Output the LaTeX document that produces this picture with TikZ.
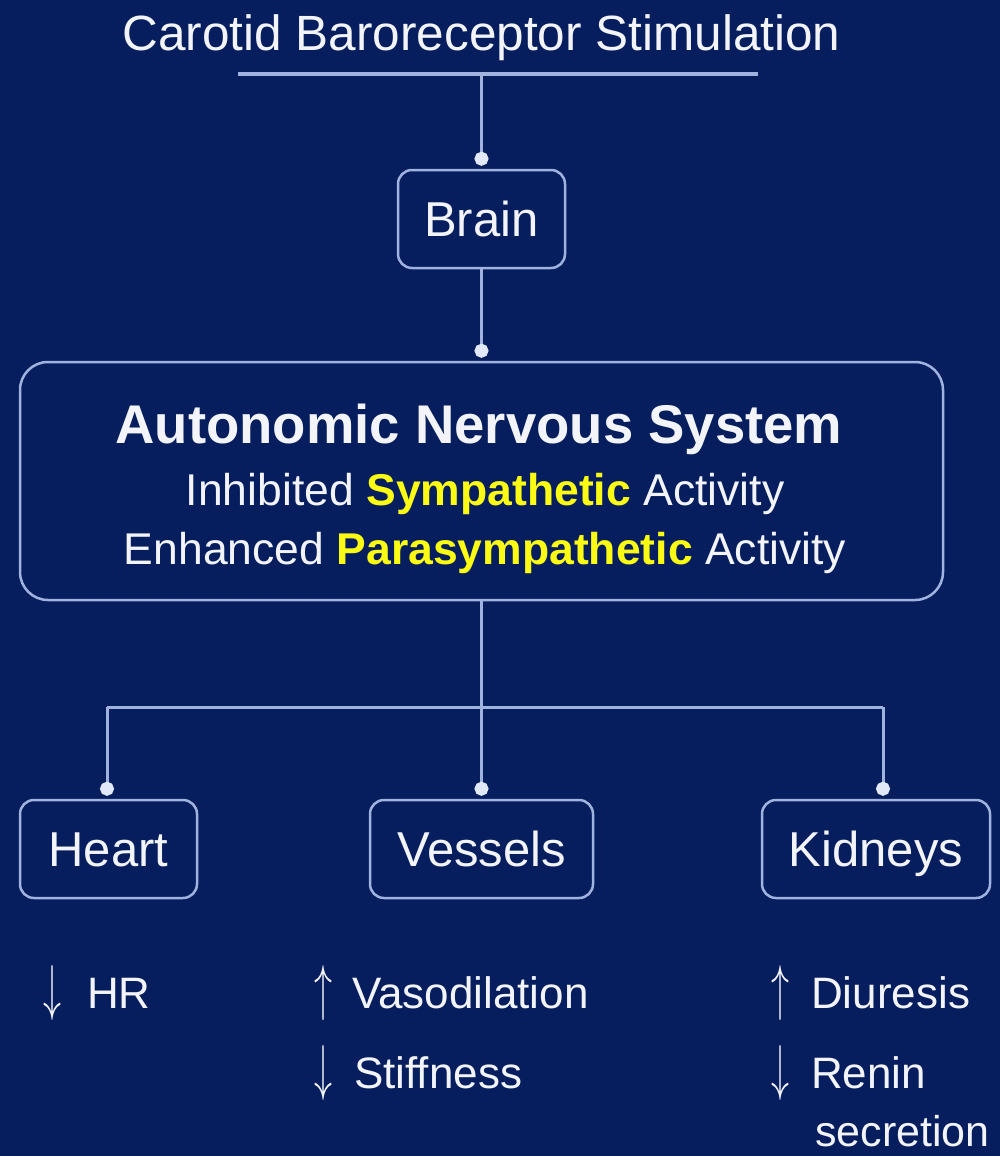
\documentclass[tikz,border=0pt]{standalone}
\usepackage{fontspec}
\usepackage{graphicx}
\setmainfont{Liberation Sans}
\usetikzlibrary{arrows.meta}
\definecolor{bg}{RGB}{6,30,94}
\definecolor{ln}{RGB}{160,178,222}
\definecolor{dotc}{RGB}{225,232,248}
\definecolor{tx}{RGB}{242,244,250}
\definecolor{yel}{RGB}{250,250,20}
\newcommand{\dn}{\resizebox*{18pt}{55pt}{$\downarrow$}}
\newcommand{\up}{\resizebox*{18pt}{55pt}{$\uparrow$}}
\begin{document}
\begin{tikzpicture}[x=1pt,y=-1pt,
  box/.style={draw=ln, line width=2.5pt, rounded corners=14pt, text=tx,
    font=\fontsize{49}{58}\selectfont, text height=35pt, text depth=0pt, inner sep=0pt},
  plain/.style={draw=ln, line width=3pt},
  conn/.style={draw=ln, line width=3pt, shorten >=3pt,
    -{Circle[length=14pt,width=14pt,color=dotc]}},
  lab/.style={text=tx, font=\fontsize{44}{50}\selectfont, inner sep=0pt, anchor=base west},
  txt/.style={text=tx, inner sep=0pt, anchor=base}
]
\fill[bg] (0,0) rectangle (1000,1156);

% title
\node[txt, font=\fontsize{49.5}{58}\selectfont] (title) at (481.5,51) {Carotid Baroreceptor Stimulation};
\coordinate (ul1) at (238,74);
\coordinate (ul2) at (758,74);
\coordinate (ulm) at (481.5,74);
\draw[plain, line width=3.5pt] (ul1) -- (ul2);

% boxes
\node[box, minimum width=167pt, minimum height=98pt] (brain) at (481.5,219) {Brain};
\node[box, rounded corners=28pt, minimum width=923pt, minimum height=238pt] (ans) at (481.5,481) {};
\node[box, minimum width=177pt, minimum height=98pt] (heart) at (108.5,849) {Heart};
\node[box, minimum width=223pt, minimum height=98pt] (vessels) at (481.5,849) {Vessels};
\node[box, minimum width=228pt, minimum height=98pt] (kidneys) at (876,849) {Kidneys};

% ANS text
\node[txt, font=\bfseries\fontsize{54.5}{60}\selectfont] (ans1) at (479,443) {Autonomic Nervous System};
\node[txt, font=\fontsize{44.5}{50}\selectfont] (ans2) at (485,505) {Inhibited \textbf{\color{yel}Sympathetic} Activity};
\node[txt, font=\fontsize{44.5}{50}\selectfont] (ans3) at (485,564) {Enhanced \textbf{\color{yel}Parasympathetic} Activity};

% connectors
\draw[conn] (ulm) -- (brain.north);
\draw[conn] (brain.south) -- (ans.north);
\coordinate (jl) at (107,707);
\coordinate (jr) at (883,707);
\draw[plain] (jl) -- (jr);
\draw[conn] (ans.south) -- (vessels.north);
\draw[conn] (jl) -- (jl |- heart.north);
\draw[conn] (jr) -- (jr |- kidneys.north);

% effects
\node[lab] (hr) at (43,1008) {\makebox[44pt][l]{\dn}HR};
\node[lab] (vaso) at (314,1008) {\makebox[38pt][l]{\up}Vasodilation};
\node[lab] (stiff) at (314,1088) {\makebox[40pt][l]{\dn}Stiffness};
\node[lab] (diur) at (771,1008) {\makebox[40pt][l]{\up}Diuresis};
\node[lab] (renin) at (771,1088) {\makebox[40pt][l]{\dn}Renin};
\node[lab, font=\fontsize{43}{50}\selectfont] (secr) at (815,1146) {secretion};
\end{tikzpicture}
\end{document}
